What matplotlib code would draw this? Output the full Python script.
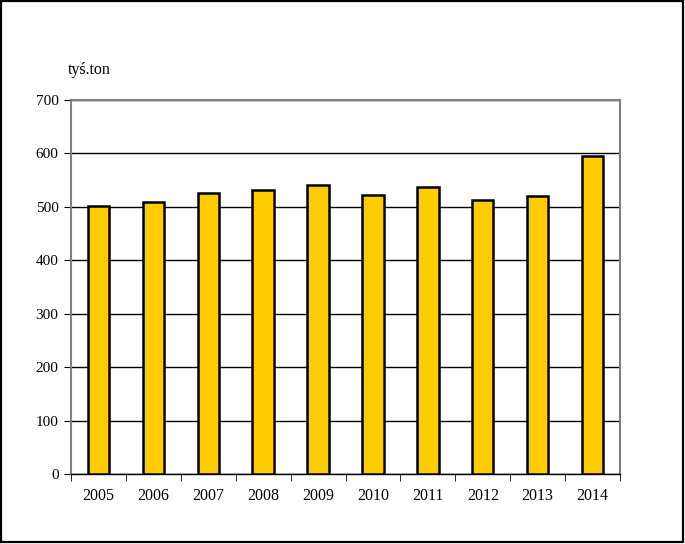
import matplotlib.pyplot as plt
from matplotlib.patches import Rectangle

years = ['2005', '2006', '2007', '2008', '2009', '2010', '2011', '2012', '2013', '2014']
values = [502, 509, 526, 532, 541, 523, 537, 513, 521, 595]
yticks = [0, 100, 200, 300, 400, 500, 600, 700]

plt.rcParams['font.family'] = ['Liberation Serif', 'DejaVu Serif']

W, H = 685, 544
fig = plt.figure(figsize=(W / 100, H / 100), dpi=100)
# outer frame, slightly inset on the right and bottom like the original
fig.patches.append(Rectangle((1 / W, 2 / H), 682 / W, 541 / H, transform=fig.transFigure,
                             fill=False, edgecolor='black', linewidth=1.6))
ax = fig.add_axes([71 / W, 70 / H, 549 / W, 374 / H])

x = list(range(len(years)))
ax.bar(x, values, width=0.39, color='#FFCC00', edgecolor='black', linewidth=1.8, zorder=3)

ax.set_xlim(-0.5, len(years) - 0.5)
ax.set_ylim(0, 700)
ax.set_yticks(yticks)
ax.yaxis.grid(True, color='black', linewidth=1)
ax.set_axisbelow(True)

ax.set_xticks(x)
ax.set_xticklabels(years, fontsize=11.5)
ax.set_xticks([i - 0.5 for i in range(len(years) + 1)], minor=True)
ax.tick_params(axis='x', which='major', length=0, pad=10)
ax.tick_params(axis='x', which='minor', length=5, direction='out', color='black')
ax.tick_params(axis='y', length=5, direction='out', labelsize=11, color='black', pad=4)

for side in ['left', 'right', 'top']:
    ax.spines[side].set_color('#808080')
    ax.spines[side].set_linewidth(1.5)
ax.spines['bottom'].set_color('black')
ax.spines['bottom'].set_linewidth(1)

fig.text(68 / W, 1 - 70 / H, 'tyś.ton', fontsize=11.5, va='center', ha='left')

plt.savefig('out.png', dpi=100)
